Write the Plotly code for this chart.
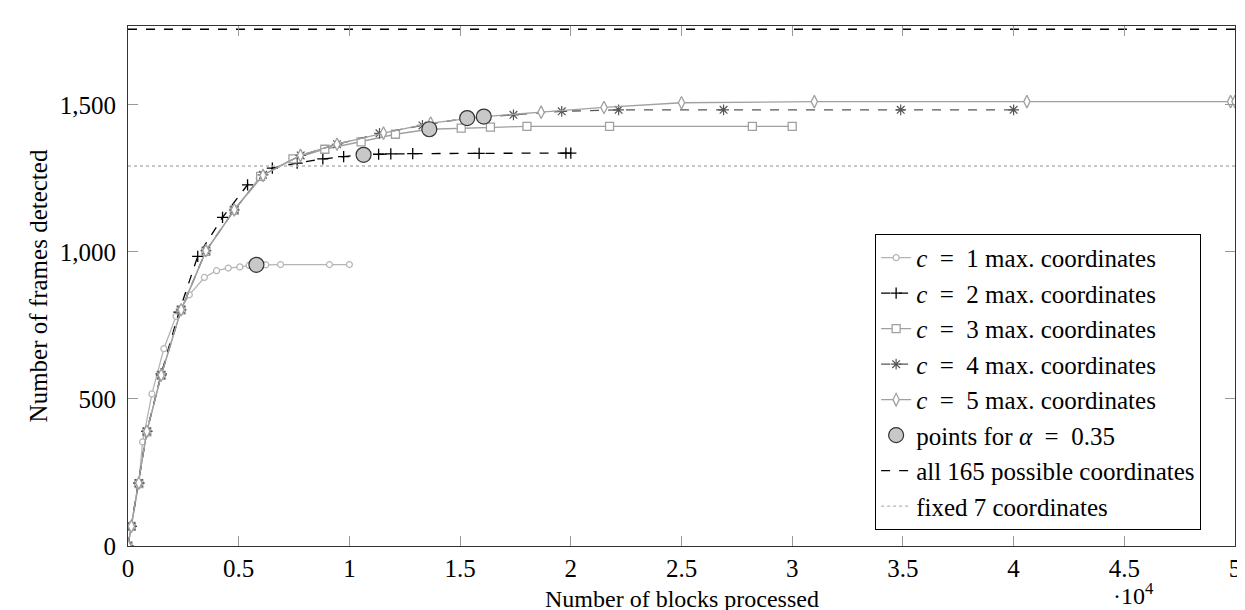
import plotly.graph_objects as go

# ---------------- data ----------------
c1_x = [0, 150, 490, 660, 1080, 1620, 2170, 2770, 3450, 4000, 4530, 5050, 5470, 5800, 6220, 6890, 9100, 10000]
c1_y = [0, 67, 214, 354, 517, 671, 781, 854, 913, 936, 945, 949, 954, 956, 956, 957, 957, 957]

c2_x = [0, 150, 490, 850, 1500, 2300, 3150, 4270, 5400, 6520, 7640, 8800, 9740, 10640, 11320, 11870, 12860, 15860, 19780, 20000]
c2_y = [0, 67, 214, 390, 585, 795, 985, 1117, 1228, 1285, 1302, 1316, 1324, 1330, 1332, 1333, 1334, 1335, 1336, 1336]

c3_x = [0, 150, 490, 850, 1500, 2400, 3520, 4800, 5990, 7450, 8890, 10530, 12080, 13610, 15050, 16370, 18020, 21750, 28200, 30000]
c3_y = [0, 67, 212, 388, 580, 803, 1002, 1142, 1257, 1316, 1349, 1374, 1400, 1417, 1421, 1424, 1427, 1427, 1427, 1427]

c4_x = [0, 150, 490, 850, 1500, 2400, 3520, 4800, 6100, 7800, 9440, 11360, 13300, 15320, 17410, 19590, 22160, 26900, 34900, 40000]
c4_y = [0, 67, 214, 390, 581, 803, 1004, 1143, 1262, 1328, 1366, 1403, 1430, 1455, 1466, 1478, 1483, 1483, 1483, 1483]

c5_x = [0, 150, 490, 850, 1500, 2400, 3520, 4800, 6100, 7790, 9440, 11540, 13670, 16070, 18660, 21500, 25000, 31000, 40600, 49800, 50000]
c5_y = [0, 67, 214, 390, 581, 803, 1004, 1143, 1260, 1328, 1366, 1404, 1438, 1460, 1475, 1491, 1507, 1511, 1511, 1511, 1511]

alpha_x = [5800, 10640, 13610, 15320, 16070]
alpha_y = [956, 1330, 1417, 1455, 1460]

all_coords_y = 1757
fixed7_y = 1292

x_tickvals = [0, 5000, 10000, 15000, 20000, 25000, 30000, 35000, 40000, 45000, 50000]
x_ticktext = ["0", "0.5", "1", "1.5", "2", "2.5", "3", "3.5", "4", "4.5", "5"]
y_tickvals = [0, 500, 1000, 1500]
y_ticktext = ["0", "500", "1,000", "1,500"]

SP = "\u2002"
names = [f"<i>c</i>{SP}={SP}1 max. coordinates", f"<i>c</i>{SP}={SP}2 max. coordinates",
         f"<i>c</i>{SP}={SP}3 max. coordinates", f"<i>c</i>{SP}={SP}4 max. coordinates",
         f"<i>c</i>{SP}={SP}5 max. coordinates", f"points for <i>α</i>{SP}={SP}0.35",
         "all 165 possible coordinates", "fixed 7 coordinates"]

FONT = "Liberation Serif"

fig = go.Figure()

fig.add_trace(go.Scatter(x=c1_x, y=c1_y, name=names[0], mode="lines+markers",
                         line=dict(color="#b4b4b4", width=1.3),
                         marker=dict(symbol="circle", size=6, color="white",
                                     line=dict(color="#b4b4b4", width=1.2))))
fig.add_trace(go.Scatter(x=c2_x, y=c2_y, name=names[1], mode="lines+markers",
                         line=dict(color="black", width=1.3, dash="dash"),
                         marker=dict(symbol="cross-thin", size=8, color="black",
                                     line=dict(color="black", width=1.3))))
fig.add_trace(go.Scatter(x=c3_x, y=c3_y, name=names[2], mode="lines+markers",
                         line=dict(color="#a0a0a0", width=1.3),
                         marker=dict(symbol="square", size=8, color="white",
                                     line=dict(color="#a0a0a0", width=1.3))))
fig.add_trace(go.Scatter(x=c4_x, y=c4_y, name=names[3], mode="lines+markers",
                         line=dict(color="#555555", width=1.3, dash="dash"),
                         marker=dict(symbol="asterisk", size=9, color="#555555",
                                     line=dict(color="#555555", width=1.2))))
fig.add_trace(go.Scatter(x=c5_x, y=c5_y, name=names[4], mode="lines+markers",
                         line=dict(color="#a0a0a0", width=1.3),
                         marker=dict(symbol="diamond-tall", size=9, color="white",
                                     line=dict(color="#a0a0a0", width=1.3))))
fig.add_trace(go.Scatter(x=alpha_x, y=alpha_y, name=names[5], mode="markers",
                         marker=dict(symbol="circle", size=15, color="#c8c8c8",
                                     line=dict(color="#333333", width=1.2))))
fig.add_trace(go.Scatter(x=[0, 50000], y=[all_coords_y, all_coords_y], name=names[6],
                         mode="lines", line=dict(color="black", width=1.3, dash="dash")))
fig.add_trace(go.Scatter(x=[0, 50000], y=[fixed7_y, fixed7_y], name=names[7],
                         mode="lines", line=dict(color="#b4b4b4", width=1.3, dash="dot")))

axis_common = dict(showline=True, linecolor="#333333", linewidth=1.2, mirror="allticks",
                   ticks="inside", ticklen=10, tickcolor="#999999", tickwidth=1,
                   showgrid=False, zeroline=False,
                   tickfont=dict(family=FONT, size=25, color="black"))

fig.update_layout(
    width=1245, height=610,
    margin=dict(l=120, r=13, t=18, b=72),
    paper_bgcolor="white", plot_bgcolor="white",
    font=dict(family=FONT, size=24, color="black"),
    showlegend=True,
    legend=dict(x=0.9694, y=0.031, xanchor="right", yanchor="bottom",
                bgcolor="white", bordercolor="black", borderwidth=1,
                font=dict(family=FONT, size=25, color="black"),
                tracegroupgap=0, itemwidth=30),
    xaxis=dict(range=[0, 50000], tickvals=x_tickvals, ticktext=x_ticktext,
               ticklabelstandoff=0, **axis_common),
    yaxis=dict(range=[0, 1768], tickvals=y_tickvals, ticktext=y_ticktext,
               ticklabelstandoff=6,
               title=dict(text="Number of frames detected", font=dict(family=FONT, size=25), standoff=4),
               **axis_common),
)

# x-axis title and the ·10^4 scale factor, placed below the tick labels
fig.add_annotation(text="Number of blocks processed", x=0.5, y=-0.101, xref="paper", yref="paper",
                   xanchor="center", yanchor="middle", showarrow=False,
                   font=dict(family=FONT, size=24, color="black"))
fig.add_annotation(text="·10<sup>4</sup>", x=0.908, y=-0.093, xref="paper", yref="paper",
                   xanchor="center", yanchor="middle", showarrow=False,
                   font=dict(family=FONT, size=24, color="black"))

fig.write_html("out.html")
